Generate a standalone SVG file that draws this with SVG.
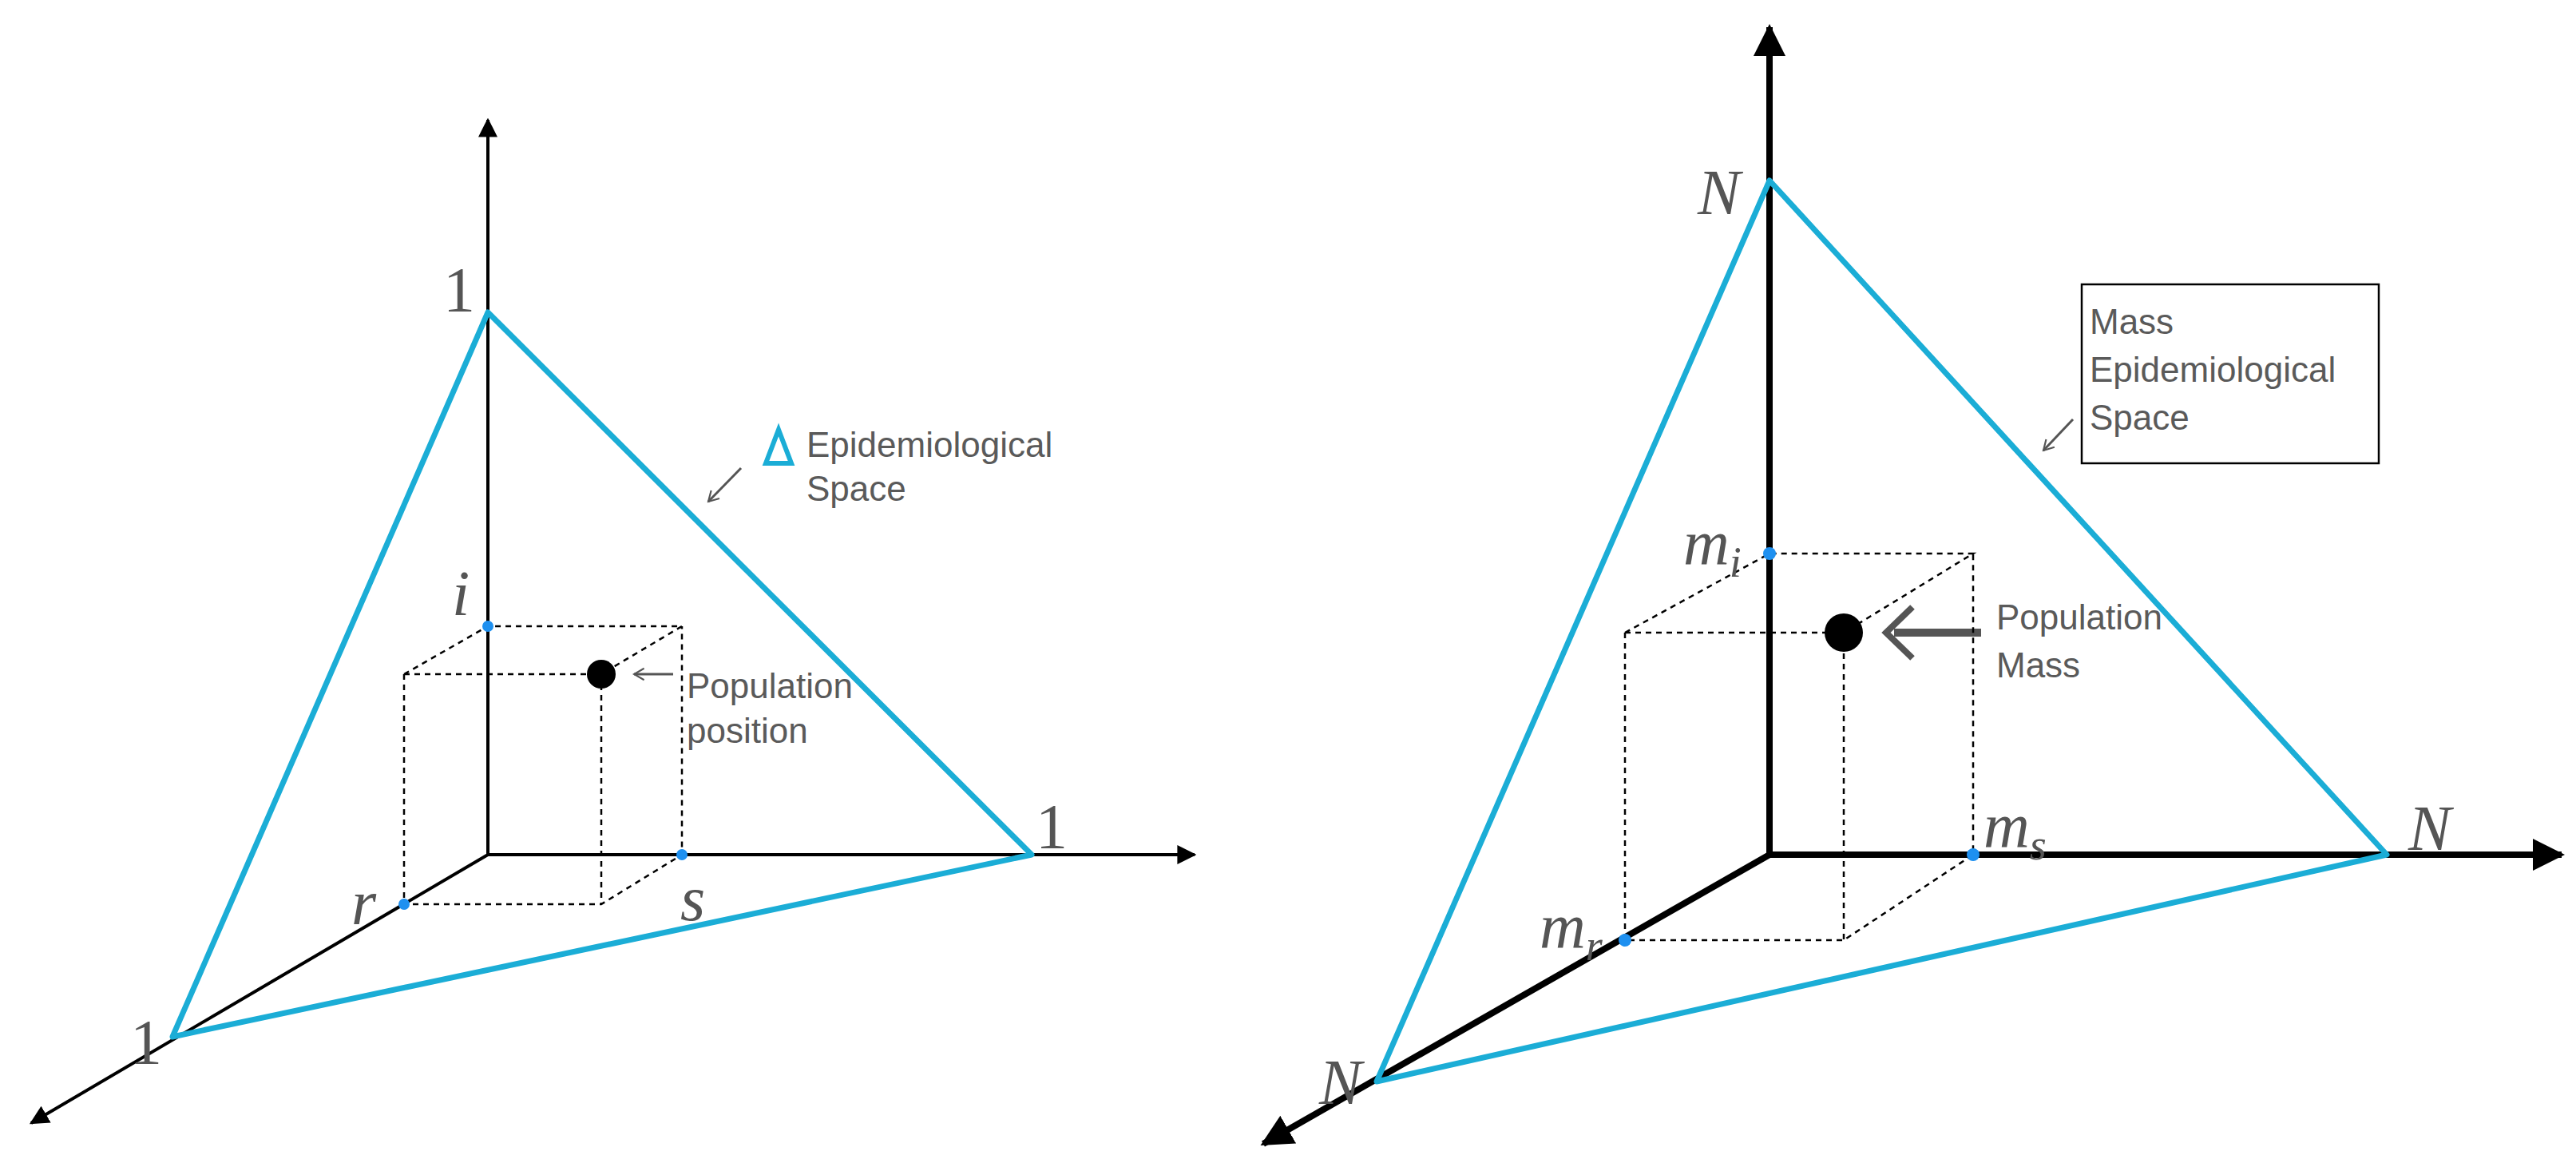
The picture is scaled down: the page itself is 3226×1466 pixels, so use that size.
<svg xmlns="http://www.w3.org/2000/svg" width="3226" height="1466" viewBox="0 0 3226 1466">
<defs>
<marker id="ah" viewBox="0 0 10 10" refX="9" refY="5" markerWidth="6" markerHeight="6" orient="auto" markerUnits="strokeWidth"><path d="M0,0 L10,5 L0,10 z" fill="#000"/></marker>
<marker id="ahb" viewBox="0 0 10 10" refX="9" refY="5" markerWidth="5" markerHeight="5" orient="auto" markerUnits="strokeWidth"><path d="M0,0 L10,5 L0,10 z" fill="#000"/></marker>
<marker id="ga" viewBox="0 0 10 10" refX="9" refY="5" markerWidth="6" markerHeight="6" orient="auto" markerUnits="strokeWidth"><path d="M2,1 L9,5 L2,9" fill="none" stroke="#555" stroke-width="1.2"/></marker>
</defs>
<style>
.ax{stroke:#000;stroke-width:4;fill:none}
.axb{stroke:#000;stroke-width:8;fill:none}
.tri{stroke:#1BADD6;stroke-width:7;fill:none;stroke-linejoin:round}
.d{stroke:#000;stroke-width:2.5;stroke-dasharray:7,6;fill:none}
.pt{fill:#1E90F0}
.lab{font-family:"Liberation Serif",serif;font-style:italic;fill:#555;font-size:80px}
.num{font-family:"Liberation Serif",serif;fill:#555;font-size:80px}
.sub{font-family:"Liberation Serif",serif;font-style:italic;fill:#555;font-size:54px}
.t{font-family:"Liberation Sans",Arial,sans-serif;fill:#5a5a5a;font-size:44px}
.ga{stroke:#555;stroke-width:3;fill:none}
</style>
<g id="connectors">
<line class="ax" x1="611" y1="1070" x2="611" y2="150" marker-end="url(#ah)"/>
<line class="ax" x1="611" y1="1070" x2="1496" y2="1070" marker-end="url(#ah)"/>
<line class="ax" x1="611" y1="1070" x2="39" y2="1406" marker-end="url(#ah)"/>
<line class="axb" x1="2216" y1="1070" x2="2216" y2="34" marker-end="url(#ahb)"/>
<line class="axb" x1="2216" y1="1070" x2="3208" y2="1070" marker-end="url(#ahb)"/>
<line class="axb" x1="2216" y1="1070" x2="1582" y2="1432" marker-end="url(#ahb)"/>
<line class="ga" x1="928" y1="586" x2="887" y2="628" marker-end="url(#ga)"/>
<line class="ga" x1="843" y1="844" x2="794" y2="844" marker-end="url(#ga)"/>
<line class="ga" x1="2596" y1="525" x2="2559" y2="564" marker-end="url(#ga)"/>
<line x1="2481" y1="792" x2="2372" y2="792" stroke="#555" stroke-width="10"/>
<polyline points="2395,760 2362,792 2395,824" stroke="#555" stroke-width="8" fill="none"/>
</g>
<g id="left-space">
<polygon class="tri" points="611,391 1292,1070 216,1298"/>
<path class="d" d="M506,844 L753,844 M506,844 L611,784 L854,784 L753,844 M506,844 L506,1132 L753,1132 L854,1070 L854,784 M753,844 L753,1132"/>
<circle cx="753" cy="844" r="18" fill="#000"/>
<circle class="pt" cx="611" cy="784" r="7"/>
<circle class="pt" cx="854" cy="1070" r="7"/>
<circle class="pt" cx="506" cy="1132" r="7"/>
<text class="num" x="555" y="390">1</text>
<text class="num" x="1297" y="1062">1</text>
<text class="num" x="163" y="1332">1</text>
<text class="lab" x="566" y="770">i</text>
<text class="lab" x="440" y="1157">r</text>
<text class="lab" x="852" y="1152">s</text>
<polygon points="959,580 975,538 991,580" fill="none" stroke="#1BADD6" stroke-width="6"/>
<text class="t" x="1010" y="572">Epidemiological</text>
<text class="t" x="1010" y="627">Space</text>
<text class="t" x="860" y="874">Population</text>
<text class="t" x="860" y="930">position</text>
</g>
<g id="right-space">
<polygon class="tri" points="2216,226 2989,1070 1724,1354"/>
<path class="d" d="M2035,792 L2309,792 M2035,792 L2216,693 L2471,693 L2309,792 M2035,792 L2035,1177 L2309,1177 L2471,1070 L2471,693 M2309,792 L2309,1177"/>
<circle cx="2309" cy="792" r="24" fill="#000"/>
<circle class="pt" cx="2216" cy="693" r="8"/>
<circle class="pt" cx="2471" cy="1070" r="8"/>
<circle class="pt" cx="2035" cy="1177" r="8"/>
<text class="lab" x="2126" y="268">N</text>
<text class="lab" x="3016" y="1064">N</text>
<text class="lab" x="1652" y="1382">N</text>
<text class="lab" x="2108" y="706">m<tspan class="sub" dy="16">i</tspan></text>
<text class="lab" x="2484" y="1060">m<tspan class="sub" dy="16">s</tspan></text>
<text class="lab" x="1928" y="1186">m<tspan class="sub" dy="16">r</tspan></text>
<rect x="2607" y="356" width="372" height="224" fill="none" stroke="#000" stroke-width="2.5"/>
<text class="t" x="2617" y="418">Mass</text>
<text class="t" x="2617" y="478">Epidemiological</text>
<text class="t" x="2617" y="538">Space</text>
<text class="t" x="2500" y="788">Population</text>
<text class="t" x="2500" y="848">Mass</text>
</g>
</svg>
